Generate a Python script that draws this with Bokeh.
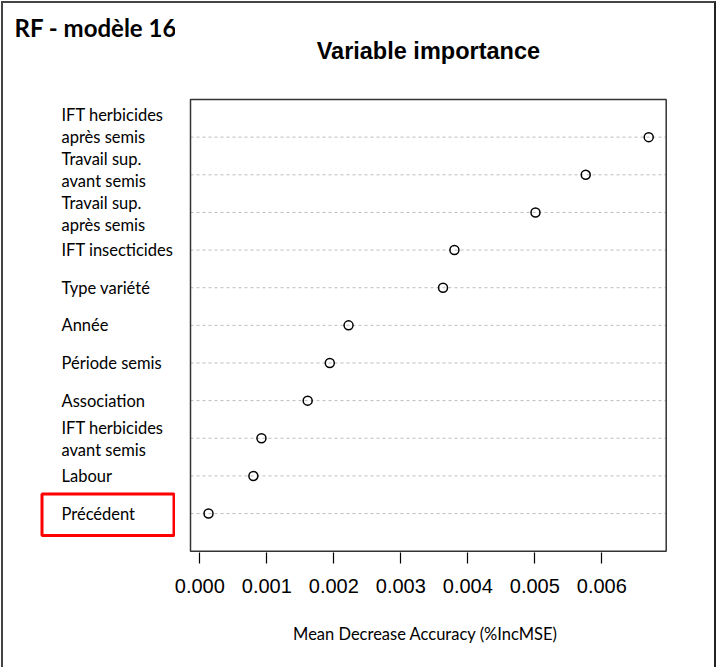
from bokeh.plotting import figure
from bokeh.layouts import row
from bokeh.models import Range1d, FixedTicker, ColumnDataSource, PrintfTickFormatter
from bokeh.core.properties import value
from bokeh.embed import file_html
from bokeh.resources import INLINE

# ---------------- data ----------------
variables = ["Précédent", "Labour", "IFT herbicides\navant semis", "Association",
             "Période semis", "Année", "Type variété", "IFT insecticides",
             "Travail sup.\naprès semis", "Travail sup.\navant semis",
             "IFT herbicides\naprès semis"]
importance = [0.00013, 0.00080, 0.00092, 0.00161, 0.00194, 0.00222,
              0.00363, 0.00380, 0.00501, 0.00576, 0.00670]
x_ticks = [0.000, 0.001, 0.002, 0.003, 0.004, 0.005, 0.006]
highlighted = "Précédent"
plot_title = "Variable importance"
model_title = "RF - modèle 16"
x_label = "Mean Decrease Accuracy (%IncMSE)"

# ---------------- layout / style (page pixels) ----------------
ORIG = 3                       # page offset of the canvases (css margin + border)
H = 664
SPLIT = 175                    # page x where the label panel ends
OVERLAP = 6                    # chart canvas starts this much left of SPLIT (transparent)
RIGHT = 714                    # page x of the right end of the chart canvas
FR_L, FR_R, FR_B = 183, 667, 552   # chart frame (page px)
BOX_L, BOX_R, BOX_T, BOX_B = 190, 665.7, 99, 550.7   # dot chart box (page px)
X0, X1 = -0.000139, 0.006961   # data values at the box's left / right edges
Y0, Y1 = 0, 12                 # data values at the box's bottom / top edges
ppx = (BOX_R - BOX_L) / (X1 - X0)
ppu = (BOX_B - BOX_T) / (Y1 - Y0)
LABEL_X = 61
label_font = "Lato"
label_size = "16.5px"
line_gap = 22
block_shift = {"IFT herbicides\naprès semis": -11.5, "Travail sup.\navant semis": -5,
               "Travail sup.\naprès semis": 2, "IFT herbicides\navant semis": 1.2}
BOX_COLOR = "#333333"

rows = list(range(1, len(variables) + 1))
y_range = Range1d(Y0 - (FR_B - BOX_B) / ppu, Y1 + (BOX_T - ORIG) / ppu)
MAIN_START = SPLIT - OVERLAP
MAIN_W = RIGHT - MAIN_START
LEFT_W = SPLIT - ORIG

# ---------------- main dot chart ----------------
p = figure(width=MAIN_W, height=H, output_backend="svg", toolbar_location=None,
           x_range=Range1d(X0 - (BOX_L - FR_L) / ppx, X1 + (FR_R - BOX_R) / ppx),
           y_range=y_range, y_axis_location=None,
           min_border_left=FR_L - MAIN_START, min_border_right=RIGHT - FR_R,
           min_border_top=0, min_border_bottom=H - (FR_B - ORIG))
p.styles = {"margin-left": f"-{OVERLAP}px"}
p.background_fill_color = None
p.border_fill_color = None
p.outline_line_color = None
p.grid.visible = False

xa = p.xaxis[0]
xa.ticker = FixedTicker(ticks=x_ticks)
xa.formatter = PrintfTickFormatter(format="%.3f")
xa.axis_line_color = None
xa.major_tick_in = 0
xa.major_tick_out = 11
xa.major_tick_line_color = "black"
xa.major_tick_line_width = 1.2
xa.minor_tick_line_color = None
xa.major_label_text_font = "Liberation Sans"
xa.major_label_text_font_size = "20px"
xa.major_label_text_color = "black"
xa.major_label_standoff = 15
xa.axis_label = x_label
xa.axis_label_text_font = label_font
xa.axis_label_text_font_size = label_size
xa.axis_label_text_font_style = "normal"
xa.axis_label_text_color = "black"
xa.axis_label_standoff = 28

# dotted row lines across the box
p.segment(x0=[X0] * len(rows), x1=[X1] * len(rows), y0=rows, y1=rows,
          line_color="#bdbdbd", line_dash="3 3", line_width=1)
# box
p.quad(left=X0, right=X1, bottom=Y0, top=Y1, fill_color=None,
       line_color=BOX_COLOR, line_width=1.5)
# points
src = ColumnDataSource(dict(x=importance, y=rows))
p.scatter("x", "y", source=src, marker="circle", size=9, fill_color=None,
          line_color="black", line_width=1.5)
# chart title, centred over the box
p.text(x=[(X0 + X1) / 2], y=[Y1 + (BOX_T - 50) / ppu], text=[plot_title],
       text_font=value("Liberation Sans"), text_font_size=value("23.5px"),
       text_font_style="bold", text_align="center", text_baseline="middle",
       text_color="black")

# ---------------- label panel (left) ----------------
lp = figure(width=LEFT_W, height=H, output_backend="svg", toolbar_location=None,
            x_range=Range1d(ORIG, SPLIT), y_range=y_range,
            x_axis_location=None, y_axis_location=None,
            min_border_left=0, min_border_right=0, min_border_top=0,
            min_border_bottom=H - (FR_B - ORIG))
lp.outline_line_color = None
lp.grid.visible = False
lp.background_fill_color = "white"
lp.border_fill_color = "white"

lx, ly, lt = [], [], []
for r, v in zip(rows, variables):
    parts = v.split("\n")
    n = len(parts)
    s = block_shift.get(v, 0)
    for k, t in enumerate(parts):
        down = s + (k - (n - 1) / 2) * line_gap
        lx.append(LABEL_X)
        ly.append(r - down / ppu)
        lt.append(t)
lp.text(x="x", y="y", text="text", source=ColumnDataSource(dict(x=lx, y=ly, text=lt)),
        text_font=value(label_font), text_font_size=value(label_size),
        text_align="left", text_baseline="middle", text_color="black")

# model title (centred vertically at page y=27, left at page x=14)
lp.text(x=[14], y=[Y1 + (BOX_T - 27) / ppu], text=[model_title],
        text_font=value(label_font), text_font_size=value("24px"), text_font_style="bold",
        text_align="left", text_baseline="middle", text_color="black")

# highlight frame around the highlighted variable
hr = rows[variables.index(highlighted)]
lp.quad(left=41.5, right=173.5, top=hr + 0.52, bottom=hr - 0.58,
        fill_color=None, line_color="#ff0000", line_width=3)

layout = row(lp, p, styles={"margin-left": "1px", "margin-top": "1px",
                            "border-top": "2px solid #444", "border-left": "2px solid #444",
                            "border-right": "2px solid #222"})

open("out.html", "w").write(file_html(layout, INLINE))
